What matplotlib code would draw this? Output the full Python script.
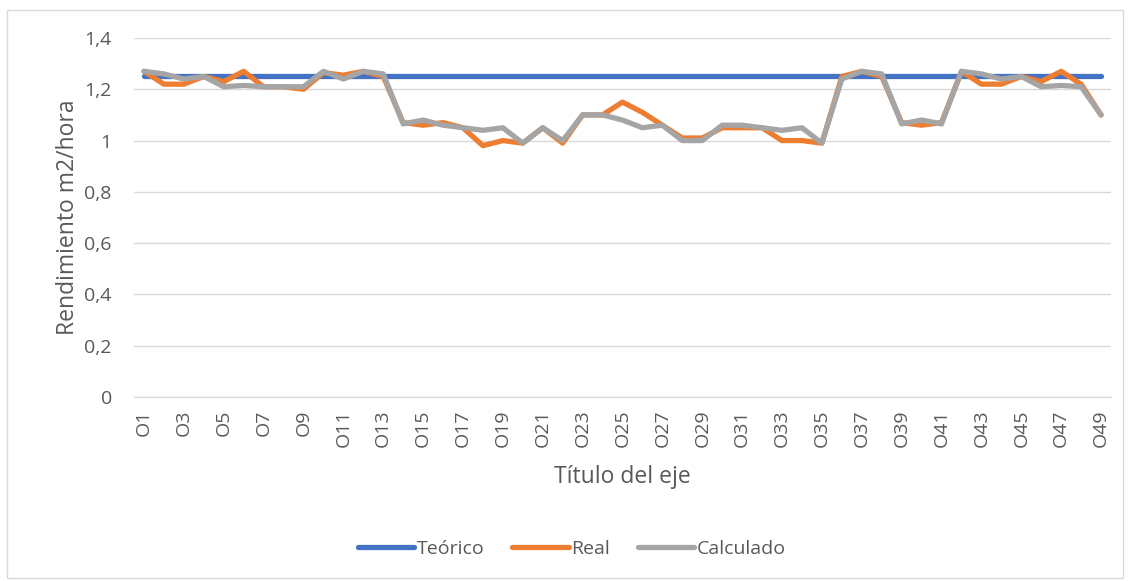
import matplotlib.pyplot as plt
from matplotlib.patches import Rectangle
from matplotlib.ticker import FuncFormatter

labels = ['O' + str(i) for i in range(1, 50)]

teorico = [1.25] * 49

real = [1.27, 1.22, 1.22, 1.25, 1.23, 1.27, 1.21, 1.21, 1.20, 1.265,
        1.255, 1.27, 1.25, 1.07, 1.06, 1.07, 1.05, 0.98, 1.00, 0.99,
        1.05, 0.99, 1.10, 1.10, 1.15, 1.11, 1.06, 1.01, 1.01, 1.05,
        1.05, 1.05, 1.00, 1.00, 0.99, 1.25, 1.27, 1.25, 1.07, 1.06,
        1.07, 1.27, 1.22, 1.22, 1.25, 1.23, 1.27, 1.22, 1.10]

calculado = [1.27, 1.26, 1.24, 1.25, 1.21, 1.215, 1.21, 1.21, 1.21, 1.27,
             1.24, 1.27, 1.26, 1.065, 1.08, 1.06, 1.05, 1.04, 1.05, 0.99,
             1.05, 1.00, 1.10, 1.10, 1.08, 1.05, 1.06, 1.00, 1.00, 1.06,
             1.06, 1.05, 1.04, 1.05, 0.99, 1.24, 1.27, 1.26, 1.065, 1.08,
             1.065, 1.27, 1.26, 1.24, 1.25, 1.21, 1.215, 1.21, 1.10]

txt = '#595959'
plt.rcParams['font.family'] = ['Open Sans', 'DejaVu Sans']

fig = plt.figure(figsize=(11.31, 5.81), dpi=100)
fig.patches.append(Rectangle((7 / 1131, 3 / 581), 1116 / 1131, 568 / 581,
                             transform=fig.transFigure, fill=False,
                             edgecolor='#D9D9D9', linewidth=1))
ax = fig.add_axes([134 / 1131, 1 - 397 / 581, 977 / 1131, 359 / 581])

x = list(range(len(labels)))
lw = 3.8
ax.plot(x, teorico, color='#4472C4', lw=lw, label='Teórico', solid_capstyle='round')
ax.plot(x, real, color='#ED7D31', lw=lw, label='Real', solid_capstyle='round')
ax.plot(x, calculado, color='#A5A5A5', lw=lw, label='Calculado', solid_capstyle='round')

ax.set_xlim(-0.5, len(labels) - 0.5)
ax.set_ylim(0, 1.4)
ax.set_yticks([0, 0.2, 0.4, 0.6, 0.8, 1.0, 1.2, 1.4])
ax.yaxis.set_major_formatter(FuncFormatter(lambda v, p: ('%g' % round(v, 1)).replace('.', ',')))
ax.set_xticks(x[::2])
ax.set_xticklabels(labels[::2], rotation=90)
ax.grid(axis='y', color='#D9D9D9', lw=1)
ax.set_axisbelow(True)
for s in ['top', 'right', 'left']:
    ax.spines[s].set_visible(False)
ax.spines['bottom'].set_color('#D9D9D9')
ax.tick_params(axis='both', length=0, labelsize=14, colors=txt)
ax.tick_params(axis='y', pad=16)
ax.tick_params(axis='x', pad=9)

ax.set_ylabel('Rendimiento m2/hora', fontsize=16.5, color=txt, labelpad=3)
ax.set_xlabel('Título del eje', fontsize=16.5, color=txt, labelpad=13)

fig.legend(loc='center', bbox_to_anchor=(572 / 1131, 1 - 549 / 581), ncol=3,
           frameon=False, fontsize=14, labelcolor=txt, handlelength=2.9,
           handletextpad=0.15, columnspacing=1.4)

fig.savefig('out.png', dpi=100)
